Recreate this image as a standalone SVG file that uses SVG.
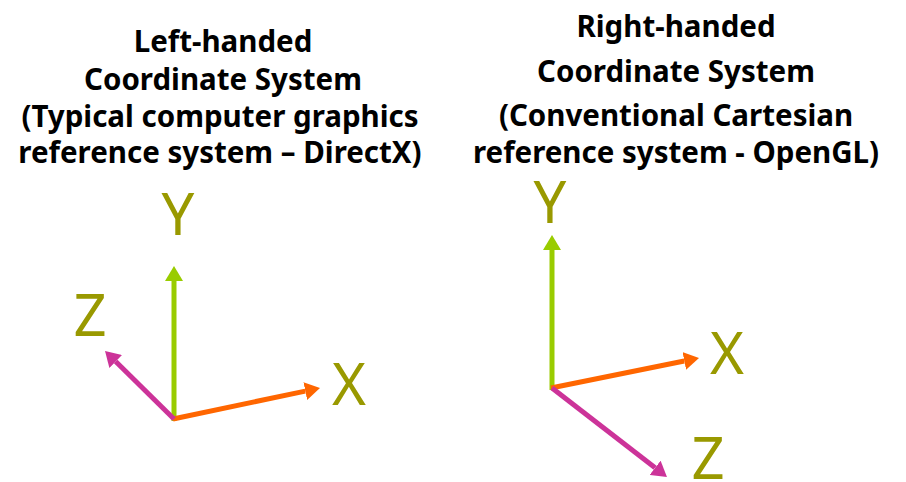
<svg xmlns="http://www.w3.org/2000/svg" width="906" height="482" viewBox="0 0 906 482">
  <style>
    .title { font-family: "Noto Sans", "Liberation Sans", sans-serif; font-weight: bold; font-size: 29.5px; fill: #000; text-anchor: middle; }
    .axis-label { font-family: "Noto Sans", "Liberation Sans", sans-serif; font-weight: normal; font-size: 58px; fill: #999900; text-anchor: middle; }
    .axis { stroke-width: 5; fill: none; }
    .ax-y { stroke: #99CC00; }
    .ax-x { stroke: #FF6600; }
    .ax-z { stroke: #CC3399; }
  </style>
  <defs>
    <marker id="head-y" markerUnits="userSpaceOnUse" markerWidth="16" markerHeight="18" refX="0" refY="9" orient="auto" viewBox="0 0 16 18">
      <path d="M0,0 L15,9 L0,18 z" fill="#99CC00"/>
    </marker>
    <marker id="head-x" markerUnits="userSpaceOnUse" markerWidth="16" markerHeight="18" refX="0" refY="9" orient="auto" viewBox="0 0 16 18">
      <path d="M0,0 L15,9 L0,18 z" fill="#FF6600"/>
    </marker>
    <marker id="head-z" markerUnits="userSpaceOnUse" markerWidth="16" markerHeight="18" refX="0" refY="9" orient="auto" viewBox="0 0 16 18">
      <path d="M0,0 L15,9 L0,18 z" fill="#CC3399"/>
    </marker>
  </defs>

  <!-- Left-handed system -->
  <g id="left-title">
    <text class="title" x="223" y="52">Left-handed</text>
    <text class="title" x="223" y="90">Coordinate System</text>
    <text class="title" x="220" y="127">(Typical computer graphics</text>
    <text class="title" x="220" y="163">reference system – DirectX)</text>
  </g>
  <g id="left-labels">
    <text class="axis-label" x="178" y="235">Y</text>
    <text class="axis-label" x="90" y="336">Z</text>
    <text class="axis-label" x="349" y="405">X</text>
  </g>

  <!-- Right-handed system -->
  <g id="right-title">
    <text class="title" x="676" y="37">Right-handed</text>
    <text class="title" x="676" y="82">Coordinate System</text>
    <text class="title" x="676" y="126">(Conventional Cartesian</text>
    <text class="title" x="676" y="163">reference system - OpenGL)</text>
  </g>
  <g id="right-labels">
    <text class="axis-label" x="550" y="223">Y</text>
    <text class="axis-label" x="727" y="374">X</text>
    <text class="axis-label" x="708" y="479">Z</text>
  </g>

  <g id="connectors">
    <line class="axis ax-y" x1="174" y1="421" x2="174" y2="281" marker-end="url(#head-y)"/>
    <line class="axis ax-x" x1="173" y1="419" x2="305.3" y2="391.1" marker-end="url(#head-x)"/>
    <line class="axis ax-z" x1="174" y1="419" x2="115.7" y2="361.5" marker-end="url(#head-z)"/>

    <line class="axis ax-y" x1="552" y1="390" x2="552" y2="250" marker-end="url(#head-y)"/>
    <line class="axis ax-x" x1="551" y1="388" x2="684.3" y2="361" marker-end="url(#head-x)"/>
    <line class="axis ax-z" x1="552" y1="388" x2="655.1" y2="467.8" marker-end="url(#head-z)"/>
  </g>
</svg>
